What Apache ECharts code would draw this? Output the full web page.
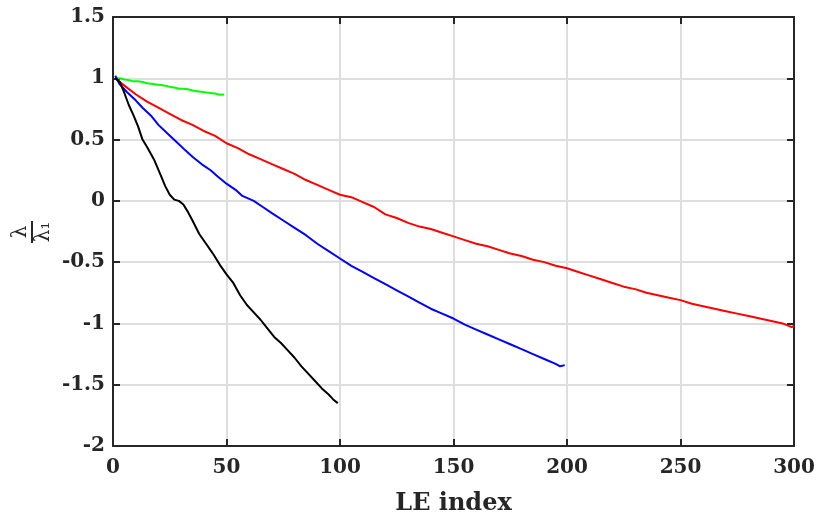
<!DOCTYPE html>
<html>
<head>
<meta charset="utf-8">
<script src="https://cdn.jsdelivr.net/npm/echarts@6/dist/echarts.min.js"></script>
<style>
  html, body { margin: 0; padding: 0; background: #fff; }
  #chart { width: 820px; height: 521px; }
</style>
</head>
<body>
<div id="chart"></div>
<script>
// x 轴刻度与范围
const xTicks = [0, 50, 100, 150, 200, 250, 300];
const yTicks = [-2, -1.5, -1, -0.5, 0, 0.5, 1, 1.5];

// 各条曲线：[LE index, λ/λ1]
const greenPts = [
  [1, 1.0], [3, 1.0], [5, 0.99], [7, 0.985], [9, 0.975], [11, 0.975], [13, 0.97],
  [15, 0.96], [17, 0.955], [19, 0.95], [21, 0.945], [23, 0.94], [25, 0.93], [27, 0.925],
  [29, 0.915], [31, 0.915], [33, 0.91], [35, 0.9], [37, 0.895], [39, 0.89], [41, 0.885],
  [43, 0.88], [45, 0.875], [47, 0.865], [49, 0.868]
];
const redPts = [
  [1, 1.0], [5, 0.94], [10, 0.87], [15, 0.81], [20, 0.76], [25, 0.71], [30, 0.66],
  [35, 0.62], [40, 0.57], [45, 0.53], [50, 0.47], [55, 0.43], [60, 0.38], [65, 0.34],
  [70, 0.30], [75, 0.26], [80, 0.22], [85, 0.17], [90, 0.13], [95, 0.09], [100, 0.05],
  [105, 0.03], [110, -0.01], [115, -0.05], [120, -0.11], [125, -0.14], [130, -0.18],
  [135, -0.21], [140, -0.23], [145, -0.26], [150, -0.29], [155, -0.32], [160, -0.35],
  [165, -0.37], [170, -0.40], [175, -0.43], [180, -0.45], [185, -0.48], [190, -0.50],
  [195, -0.53], [200, -0.55], [205, -0.58], [210, -0.61], [215, -0.64], [220, -0.67],
  [225, -0.70], [230, -0.72], [235, -0.75], [240, -0.77], [245, -0.79], [250, -0.81],
  [255, -0.84], [260, -0.86], [265, -0.88], [270, -0.90], [275, -0.92], [280, -0.94],
  [285, -0.96], [290, -0.98], [295, -1.00], [299, -1.03], [300, -1.02]
];
const bluePts = [
  [1, 1.02], [3, 0.95], [6, 0.89], [10, 0.82], [13, 0.76], [17, 0.69], [20, 0.62],
  [24, 0.55], [28, 0.48], [32, 0.41], [35, 0.36], [39, 0.30], [43, 0.25], [46, 0.20],
  [50, 0.14], [54, 0.09], [57, 0.04], [62, 0.0], [66, -0.05], [70, -0.10], [75, -0.16],
  [80, -0.22], [85, -0.28], [90, -0.35], [95, -0.41], [100, -0.47], [105, -0.53],
  [110, -0.58], [115, -0.63], [120, -0.68], [125, -0.73], [130, -0.78], [135, -0.83],
  [140, -0.88], [145, -0.92], [150, -0.96], [155, -1.01], [160, -1.05], [165, -1.09],
  [170, -1.13], [175, -1.17], [180, -1.21], [185, -1.25], [190, -1.29], [195, -1.33],
  [197, -1.35], [199, -1.34]
];
const blackPts = [
  [1, 1.0], [3, 0.97], [5, 0.88], [7, 0.78], [9, 0.70], [11, 0.61], [13, 0.50],
  [15, 0.44], [18, 0.34], [21, 0.21], [23, 0.12], [25, 0.05], [27, 0.01], [29, 0.0],
  [31, -0.03], [33, -0.09], [35, -0.16], [38, -0.27], [41, -0.35], [44, -0.43],
  [47, -0.52], [50, -0.60], [53, -0.67], [56, -0.77], [59, -0.85], [62, -0.91],
  [65, -0.97], [68, -1.04], [71, -1.11], [74, -1.16], [77, -1.22], [80, -1.28],
  [83, -1.35], [86, -1.41], [89, -1.47], [92, -1.53], [95, -1.58], [97, -1.62], [99, -1.65]
];

const FONT = "DejaVu Serif";
const AX = "#262626";

function line(name, data, color) {
  return {
    name, type: "line", data, symbol: "none", smooth: false,
    lineStyle: { color, width: 2 }, z: 3
  };
}

// 隐藏标签的镜像轴：画出上/右侧的框线内刻度
function mirrorX() {
  return {
    type: "value", position: "top", min: 0, max: 300, interval: 50,
    axisLine: { show: true, onZero: false, lineStyle: { color: AX, width: 2 } },
    axisTick: { show: true, inside: true, length: 7, lineStyle: { color: AX, width: 2 } },
    axisLabel: { show: false }, splitLine: { show: false }
  };
}
function mirrorY() {
  return {
    type: "value", position: "right", min: -2, max: 1.5, interval: 0.5,
    axisLine: { show: true, onZero: false, lineStyle: { color: AX, width: 2 } },
    axisTick: { show: true, inside: true, length: 7, lineStyle: { color: AX, width: 2 } },
    axisLabel: { show: false }, splitLine: { show: false }
  };
}

const chart = echarts.init(document.getElementById("chart"), null, { renderer: "canvas" });
chart.setOption({
  animation: false,
  backgroundColor: "#fff",
  grid: { left: 113, right: 26, top: 17, bottom: 74 },
  xAxis: [{
    type: "value", min: xTicks[0], max: xTicks[xTicks.length - 1], interval: 50,
    name: "LE index", nameLocation: "middle", nameGap: 46,
    nameTextStyle: { fontFamily: FONT, fontWeight: "bold", fontSize: 24, color: AX },
    axisLine: { show: true, onZero: false, lineStyle: { color: AX, width: 2 } },
    axisTick: { show: true, inside: true, length: 7, lineStyle: { color: AX, width: 2 } },
    axisLabel: { fontFamily: FONT, fontWeight: "bold", fontSize: 20, color: AX, margin: 12 },
    splitLine: { show: true, lineStyle: { color: "#dedede", width: 2 } }
  }, mirrorX()],
  yAxis: [{
    type: "value", min: yTicks[0], max: yTicks[yTicks.length - 1], interval: 0.5,
    axisLine: { show: true, onZero: false, lineStyle: { color: AX, width: 2 } },
    axisTick: { show: true, inside: true, length: 7, lineStyle: { color: AX, width: 2 } },
    axisLabel: { fontFamily: FONT, fontWeight: "bold", fontSize: 20, color: AX, margin: 8 },
    splitLine: { show: true, lineStyle: { color: "#dedede", width: 2 } }
  }, mirrorY()],
  graphic: [{
    type: "group", x: 32, y: 232, rotation: Math.PI / 2,
    children: [
      { type: "text", x: 0, y: -11, style: { text: "λ", font: "20px " + FONT, fill: AX, align: "center", verticalAlign: "middle" } },
      { type: "line", shape: { x1: -11, y1: 0, x2: 11, y2: 0 }, style: { stroke: AX, lineWidth: 2 } },
      { type: "text", x: 0, y: 12, style: { text: "λ₁", font: "20px " + FONT, fill: AX, align: "center", verticalAlign: "middle" } }
    ]
  }],
  series: [
    line("green", greenPts, "#00ff00"),
    line("red", redPts, "#ff0000"),
    line("blue", bluePts, "#0000ff"),
    line("black", blackPts, "#000000")
  ]
});
</script>
</body>
</html>
